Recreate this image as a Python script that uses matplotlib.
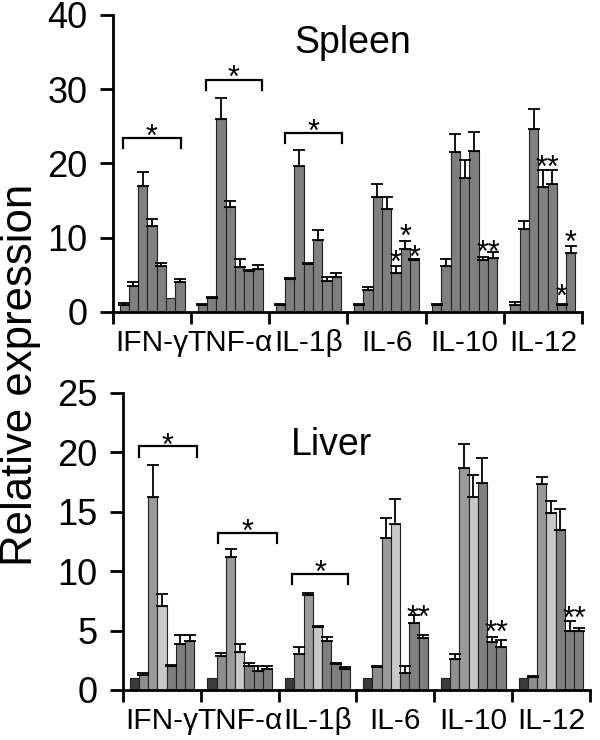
import matplotlib
matplotlib.use('Agg')
import matplotlib.pyplot as plt
import matplotlib.transforms as mtransforms
import numpy as np

plt.rcParams['font.family'] = ['Liberation Sans', 'DejaVu Sans']

cytokines = ['IFN-γ', 'TNF-α', 'IL-1β', 'IL-6', 'IL-10', 'IL-12']

# spleen, 7 bars per cytokine
spleen_mean = [[1.0, 3.5, 17.0, 11.6, 6.2, 1.9, 4.0],
               [1.0, 1.9, 26.0, 14.2, 6.1, 5.5, 5.8],
               [1.0, 4.4, 19.7, 6.5, 9.7, 4.2, 4.7],
               [1.0, 2.9, 15.5, 13.9, 5.3, 8.5, 7.0],
               [1.0, 6.2, 21.6, 18.0, 21.7, 7.0, 7.3],
               [0.9, 11.2, 24.6, 16.8, 17.3, 1.0, 8.0]]
spleen_err = [[0.2, 0.5, 1.9, 0.9, 0.4, 0.0, 0.4],
              [0.1, 0.1, 2.8, 0.8, 1.0, 0.1, 0.5],
              [0.1, 0.2, 2.1, 0.1, 1.3, 0.5, 0.5],
              [0.1, 0.5, 1.8, 1.6, 0.9, 1.1, 0.2],
              [0.1, 0.9, 2.4, 2.4, 2.5, 0.4, 0.8],
              [0.4, 1.1, 2.7, 2.3, 1.8, 0.05, 0.9]]

# liver
liver_mean = [[1.0, 1.3, 16.2, 7.1, 2.05, 3.9, 4.1],
              [1.0, 2.9, 11.2, 3.2, 2.0, 1.6, 1.8],
              [1.0, 3.0, 8.0, 5.3, 4.1, 2.2, 1.8],
              [1.0, 1.9, 12.8, 14.0, 1.4, 5.6, 4.4],
              [1.0, 2.6, 18.7, 16.2, 17.4, 4.0, 3.6],
              [1.0, 1.1, 17.3, 14.9, 13.5, 5.0, 5.0]]
liver_err = [[0.0, 0.15, 2.7, 1.0, 0.05, 0.7, 0.5],
             [0.0, 0.2, 0.7, 0.7, 0.3, 0.4, 0.25],
             [0.0, 0.65, 0.2, 0.1, 0.4, 0.05, 0.1],
             [0.0, 0.15, 1.7, 2.1, 0.65, 0.7, 0.2],
             [0.0, 0.4, 2.0, 1.9, 2.1, 0.5, 0.6],
             [0.0, 0.05, 0.6, 1.0, 1.7, 0.8, 0.2]]

# (group, bars, height of star)
spleen_stars = [(3, [4], 7.4), (3, [5], 11.0), (3, [6], 8.1),
                (4, [5, 6], 8.8),
                (5, [3, 4], 20.3), (5, [5], 2.9), (5, [6], 10.1)]
liver_stars = [(3, [5, 6], 6.6), (4, [5, 6], 5.3), (5, [5, 6], 6.5)]

# (group, from bar, to bar, height)
spleen_brackets = [(0, -0.17, 6.06, 23.4), (1, 0.37, 6.39, 31.3), (2, 0.47, 6.6, 24.1)]
liver_brackets = [(0, 0.48, 6.8, 20.5), (1, 0.7, 7.0, 13.2), (2, 0.26, 6.3, 9.8)]

spleen_colors = ['#7f7f7f'] * 7
liver_colors = ['#3c3c3c', '#8e8e8e', '#9a9a9a', '#c8c8c8', '#7f7f7f', '#7f7f7f', '#7f7f7f']

star_size = 22

# small sideways nudges of the category labels (pixels), as in the original
spleen_label_dx = [-8, -6, 4, 6, 5, 4]
liver_label_dx = [-7, -3, 4, 7, 3, 1]


def star(ax, x, y, n=1):
    # baseline shifted so the asterisk sits centred on y
    ax.annotate('*' * n, xy=(x, y), xytext=(0, -0.5 * star_size),
                textcoords='offset points', ha='center', va='baseline',
                fontsize=star_size)


def draw_panel(ax, means, errs, colors, bw, ymax, yticks, stars, brackets, drop, gap, label_dx):
    means = np.array(means)
    errs = np.array(errs)
    groups = np.arange(len(cytokines))
    for i in range(7):
        x = groups + 0.5 + (i - 3) * bw
        ax.bar(x, means[:, i], width=bw, color=colors[i], edgecolor='#222222',
               linewidth=0.8, zorder=2)
        m = errs[:, i] > 0
        ax.errorbar(x[m], means[m, i], yerr=[np.zeros(m.sum()), errs[m, i]],
                    fmt='none', ecolor='black', elinewidth=1.3, capsize=4.5,
                    capthick=1.3, zorder=3)

    for g, bars, y in stars:
        x = g + 0.5 + (np.mean(bars) - 3) * bw
        star(ax, x, y, len(bars))

    for g, i0, i1, y in brackets:
        x0 = g + 0.5 + (i0 - 3) * bw
        x1 = g + 0.5 + (i1 - 3) * bw
        ax.plot([x0, x0, x1, x1], [y - drop, y, y, y - drop], color='black',
                lw=1.6, solid_joinstyle='miter', zorder=3)
        star(ax, (x0 + x1) / 2, y + gap)

    ax.set_xlim(0, len(cytokines))
    ax.set_ylim(0, ymax)
    ax.set_yticks(yticks)
    ax.set_xticks(np.arange(len(cytokines) + 1))
    ax.set_xticklabels([])
    ax.set_xticks(groups + 0.5, minor=True)
    ax.set_xticklabels(cytokines, minor=True)
    for lab, dx in zip(ax.get_xticklabels(minor=True), label_dx):
        shift = mtransforms.ScaledTranslation(dx / 100, 0, ax.figure.dpi_scale_trans)
        lab.set_transform(lab.get_transform() + shift)
    ax.spines['top'].set_visible(False)
    ax.spines['right'].set_visible(False)
    ax.spines['left'].set_linewidth(2)
    ax.spines['bottom'].set_linewidth(2)
    ax.tick_params(axis='y', direction='out', length=9.4, width=2, labelsize=26, pad=9)
    ax.tick_params(axis='x', which='major', direction='out', length=8.6, width=2)
    ax.tick_params(axis='x', which='minor', length=0, labelsize=21.5, pad=12)


fig = plt.figure(figsize=(6, 7.4), dpi=100)
ax1 = fig.add_axes([0.1883, 0.5784, 0.7817, 0.4014])
ax2 = fig.add_axes([0.205, 0.0676, 0.7783, 0.4014])

draw_panel(ax1, spleen_mean, spleen_err, spleen_colors, 0.119, 40, [0, 10, 20, 30, 40],
           spleen_stars, spleen_brackets, 1.35, 1.0, spleen_label_dx)
draw_panel(ax2, liver_mean, liver_err, liver_colors, 0.1187, 25, [0, 5, 10, 15, 20, 25],
           liver_stars, liver_brackets, 0.85, 0.6, liver_label_dx)

fig.text(353 / 600, 1 - 53 / 740, 'Spleen', ha='center', va='baseline', fontsize=27)
fig.text(331 / 600, 1 - 455 / 740, 'Liver', ha='center', va='baseline', fontsize=27)
fig.text(21 / 600, 1 - 375 / 740, 'Relative expression', rotation=90,
         ha='center', va='center', fontsize=31.5)

fig.savefig('out.png', dpi=100)
